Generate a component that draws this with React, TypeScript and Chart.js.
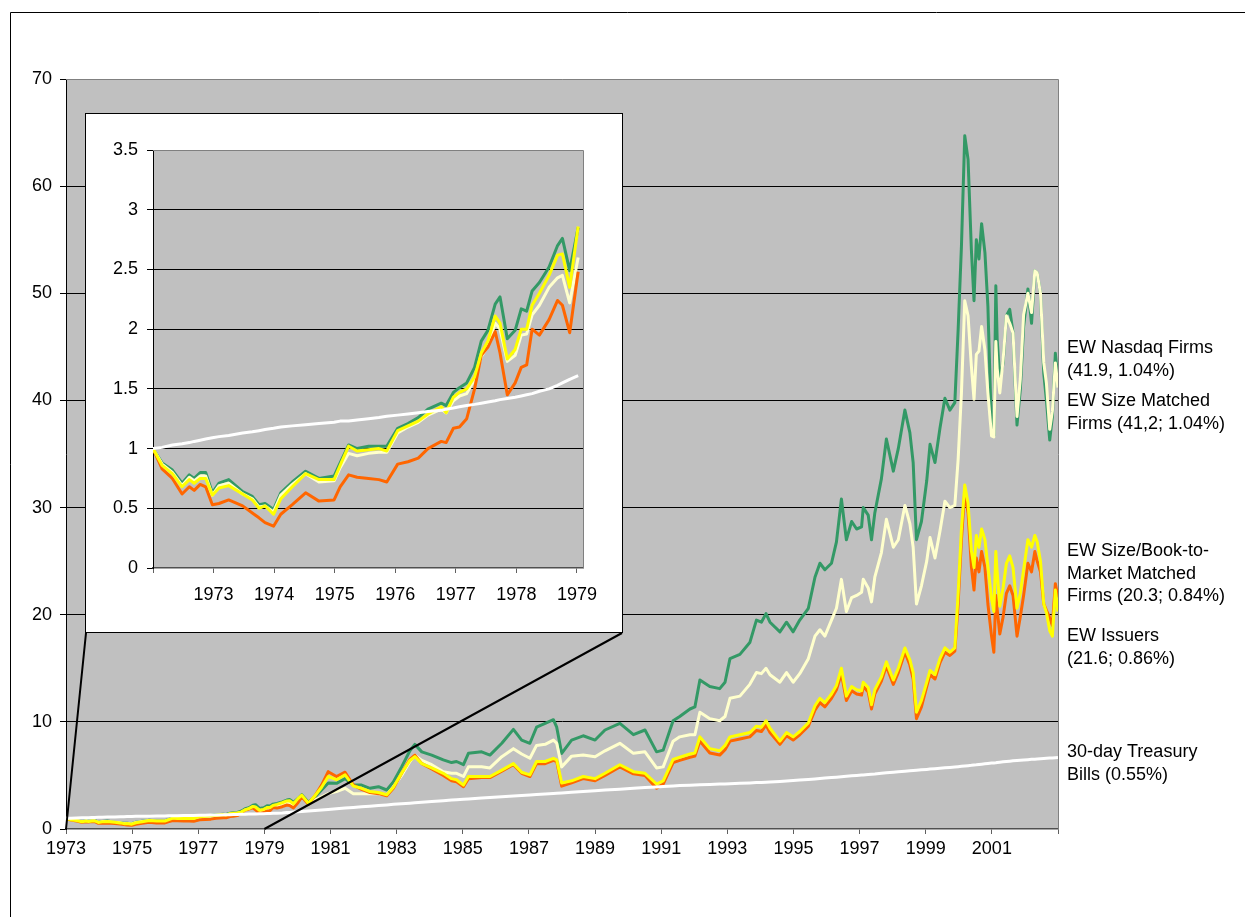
import React, { useEffect, useRef } from 'react';
import { Chart, registerables } from 'chart.js';

Chart.register(...registerables);

// ---- DATA (decimal years) ----
const YEARS = [
  // 1973 - 1980
  1973.00, 1973.15, 1973.32, 1973.48, 1973.60, 1973.68, 1973.78, 1973.87, 1973.98, 1974.09,
  1974.25, 1974.48, 1974.64, 1974.75, 1974.85, 1974.99, 1975.11, 1975.30, 1975.52, 1975.74,
  1975.99, 1976.09, 1976.23, 1976.37, 1976.56, 1976.73, 1976.86, 1977.04, 1977.21, 1977.38,
  1977.54, 1977.76, 1977.84, 1977.96, 1978.06, 1978.18, 1978.31, 1978.42, 1978.53, 1978.65,
  1978.73, 1978.85, 1978.98, 1979.08, 1979.17, 1979.26, 1979.38, 1979.54, 1979.68, 1979.76,
  1979.88, 1980.02,
  // 1980 - 1991
  1980.13, 1980.33, 1980.53, 1980.73, 1980.93, 1981.18, 1981.44, 1981.69, 1981.94, 1982.19,
  1982.45, 1982.70, 1982.90, 1983.15, 1983.40, 1983.55, 1983.76, 1984.06, 1984.41, 1984.66,
  1984.81, 1985.02, 1985.17, 1985.57, 1985.82, 1986.18, 1986.53, 1986.78, 1987.03, 1987.23,
  1987.49, 1987.74, 1987.84, 1987.99, 1988.29, 1988.64, 1989.00, 1989.30, 1989.75, 1990.16,
  1990.51, 1990.86, 1991.06,
  // 1991 - 2003
  1991.36, 1991.56, 1991.87, 1992.02, 1992.17, 1992.47, 1992.77, 1992.93, 1993.08, 1993.38,
  1993.68, 1993.88, 1994.03, 1994.17, 1994.29, 1994.59, 1994.79, 1994.99, 1995.19, 1995.45,
  1995.65, 1995.80, 1995.95, 1996.15, 1996.30, 1996.45, 1996.60, 1996.76, 1996.91, 1997.06,
  1997.11, 1997.26, 1997.36, 1997.46, 1997.66, 1997.81, 1998.02, 1998.17, 1998.37, 1998.52,
  1998.62, 1998.72, 1998.87, 1999.03, 1999.13, 1999.28, 1999.43, 1999.58, 1999.73, 1999.88,
  1999.98, 2000.08, 2000.18, 2000.28, 2000.38, 2000.46, 2000.53, 2000.61, 2000.69, 2000.79,
  2000.88, 2000.99, 2001.06, 2001.12, 2001.16, 2001.24, 2001.34, 2001.44, 2001.54, 2001.64,
  2001.76, 2001.86, 2001.96, 2002.09, 2002.20, 2002.30, 2002.37, 2002.47, 2002.57, 2002.65,
  2002.75, 2002.83, 2002.92, 2003.00,
];

const EW_NASDAQ = [
  1.00, 0.88, 0.82, 0.71, 0.78, 0.75, 0.80, 0.80, 0.63, 0.71,
  0.74, 0.64, 0.60, 0.53, 0.54, 0.49, 0.63, 0.72, 0.81, 0.75,
  0.77, 0.88, 1.03, 1.00, 1.02, 1.02, 1.02, 1.17, 1.21, 1.26,
  1.33, 1.38, 1.36, 1.47, 1.51, 1.55, 1.68, 1.90, 1.99, 2.21,
  2.27, 1.92, 1.99, 2.17, 2.15, 2.32, 2.39, 2.52, 2.70, 2.76,
  2.49, 2.85,
  3.20, 2.50, 3.00, 3.64, 4.30, 4.26, 4.70, 4.10, 4.10, 3.80,
  3.95, 3.64, 4.40, 5.80, 7.30, 7.90, 7.20, 6.90, 6.45, 6.20,
  6.30, 6.00, 7.06, 7.20, 6.90, 8.00, 9.30, 8.30, 8.00, 9.50,
  9.86, 10.20, 9.50, 7.06, 8.30, 8.70, 8.30, 9.24, 9.86, 8.80,
  9.24, 7.20, 7.36,
  10.1, 10.5, 11.2, 11.4, 13.9, 13.3, 13.1, 13.7, 15.9, 16.3,
  17.4, 19.5, 19.3, 20.1, 19.3, 18.4, 19.3, 18.4, 19.5, 20.6,
  23.5, 24.8, 24.2, 24.8, 26.8, 30.8, 27.0, 28.7, 28.0, 28.2,
  30.0, 29.3, 27.0, 29.5, 32.7, 36.4, 33.4, 35.5, 39.1, 37.0,
  34.2, 27.0, 28.7, 32.5, 35.9, 34.2, 37.4, 40.2, 39.1, 39.8,
  46.6, 54.4, 64.7, 62.5, 54.1, 49.3, 55.0, 53.2, 56.5, 53.8,
  48.8, 37.0, 36.7, 50.7, 45.7, 42.0, 43.5, 47.9, 48.5, 46.3,
  37.7, 41.0, 46.9, 50.4, 47.2, 52.1, 51.9, 50.0, 42.5, 40.0,
  36.3, 38.5, 44.4, 41.9,
];

const EW_SIZE_MATCHED = [
  1.00, 0.87, 0.80, 0.69, 0.76, 0.73, 0.77, 0.77, 0.61, 0.69,
  0.71, 0.62, 0.58, 0.51, 0.52, 0.47, 0.61, 0.70, 0.79, 0.72,
  0.73, 0.84, 0.96, 0.94, 0.96, 0.97, 0.97, 1.13, 1.18, 1.22,
  1.28, 1.33, 1.30, 1.40, 1.44, 1.46, 1.58, 1.77, 1.86, 2.05,
  2.00, 1.73, 1.78, 1.95, 1.96, 2.12, 2.20, 2.35, 2.43, 2.45,
  2.22, 2.60,
  3.00, 2.40, 2.70, 3.00, 3.30, 3.50, 3.80, 3.30, 3.30, 3.30,
  3.30, 3.20, 3.90, 5.00, 6.30, 6.90, 6.40, 6.00, 5.35, 5.20,
  5.20, 4.90, 5.80, 5.80, 5.70, 6.75, 7.50, 7.00, 6.60, 7.80,
  7.90, 8.30, 8.00, 5.80, 6.80, 6.90, 6.75, 7.30, 8.00, 7.06,
  7.20, 5.70, 5.80,
  8.2, 8.6, 8.8, 8.8, 10.9, 10.3, 10.1, 10.5, 12.2, 12.4,
  13.5, 14.6, 14.5, 15.0, 14.4, 13.7, 14.6, 13.7, 14.5, 15.9,
  18.0, 18.6, 18.0, 19.5, 20.6, 23.3, 20.3, 21.6, 21.8, 22.1,
  23.3, 22.5, 21.2, 23.5, 25.8, 28.9, 26.3, 27.0, 30.2, 28.5,
  26.3, 21.0, 22.7, 25.0, 27.2, 25.3, 27.8, 30.6, 30.0, 30.2,
  34.5, 40.7, 49.3, 47.9, 43.2, 40.1, 44.3, 44.6, 46.9, 44.7,
  40.7, 36.7, 36.6, 45.5, 43.0, 40.7, 43.8, 47.9, 47.2, 46.3,
  38.5, 42.0, 48.0, 50.0, 48.2, 52.1, 51.9, 50.0, 43.5, 41.6,
  37.3, 39.0, 43.5, 41.2,
];

const EW_SIZE_BM_MATCHED = [
  1.00, 0.86, 0.79, 0.68, 0.74, 0.71, 0.75, 0.75, 0.61, 0.67,
  0.69, 0.62, 0.57, 0.50, 0.52, 0.45, 0.58, 0.68, 0.79, 0.74,
  0.74, 0.86, 1.02, 0.98, 0.99, 1.00, 0.98, 1.15, 1.19, 1.23,
  1.29, 1.35, 1.30, 1.43, 1.47, 1.50, 1.60, 1.80, 1.90, 2.11,
  2.05, 1.75, 1.83, 2.00, 2.00, 2.20, 2.30, 2.45, 2.62, 2.63,
  2.35, 2.86,
  3.16, 2.40, 3.10, 3.90, 4.90, 4.60, 5.05, 4.00, 3.80, 3.50,
  3.40, 3.20, 3.90, 5.20, 6.40, 6.75, 6.10, 5.70, 5.20, 4.70,
  4.60, 4.10, 4.90, 4.90, 4.90, 5.50, 6.10, 5.30, 5.05, 6.30,
  6.30, 6.60, 6.45, 4.30, 4.50, 4.90, 4.70, 5.20, 6.00, 5.35,
  5.20, 4.20, 4.50,
  6.5, 6.7, 7.0, 7.1, 8.6, 7.5, 7.3, 7.8, 8.6, 8.8,
  9.0, 9.6, 9.5, 10.1, 9.4, 8.2, 9.0, 8.6, 9.1, 9.9,
  11.5, 12.2, 11.8, 12.6, 13.4, 15.0, 12.4, 13.3, 13.0, 12.9,
  13.7, 13.2, 11.6, 13.0, 14.2, 15.6, 13.9, 15.0, 16.9, 15.8,
  14.6, 10.9, 12.0, 13.7, 14.8, 14.4, 15.9, 16.9, 16.5, 16.9,
  22.0, 28.0, 32.1, 30.4, 26.0, 24.4, 27.4, 26.3, 28.0, 27.0,
  24.5, 21.5, 20.3, 25.9, 24.0, 20.8, 22.5, 24.8, 25.5, 24.4,
  20.6, 22.0, 24.2, 27.0, 26.3, 27.4, 26.8, 25.0, 21.0, 20.2,
  18.5, 18.0, 22.3, 20.3,
];

const EW_ISSUERS = [
  1.00, 0.83, 0.75, 0.62, 0.68, 0.65, 0.70, 0.68, 0.53, 0.54,
  0.57, 0.52, 0.46, 0.42, 0.38, 0.35, 0.45, 0.53, 0.63, 0.56,
  0.57, 0.68, 0.78, 0.76, 0.75, 0.74, 0.72, 0.87, 0.89, 0.92,
  1.00, 1.06, 1.05, 1.17, 1.18, 1.25, 1.50, 1.78, 1.85, 1.98,
  1.80, 1.45, 1.55, 1.68, 1.70, 2.00, 1.95, 2.08, 2.24, 2.20,
  1.97, 2.48,
  3.00, 2.30, 3.10, 4.10, 5.35, 4.90, 5.30, 4.10, 3.70, 3.40,
  3.30, 3.10, 3.80, 5.20, 6.50, 6.90, 6.10, 5.60, 5.00, 4.50,
  4.40, 3.95, 4.70, 4.80, 4.80, 5.40, 6.00, 5.20, 4.90, 6.10,
  6.10, 6.40, 6.30, 4.00, 4.30, 4.70, 4.50, 5.00, 5.80, 5.15,
  5.00, 3.80, 4.20,
  6.2, 6.4, 6.7, 6.8, 8.2, 7.1, 6.9, 7.4, 8.2, 8.4,
  8.6, 9.2, 9.1, 9.7, 9.0, 7.9, 8.7, 8.3, 8.8, 9.6,
  11.1, 11.8, 11.4, 12.2, 13.0, 14.5, 12.0, 12.9, 12.6, 12.5,
  13.3, 12.8, 11.2, 12.6, 13.8, 15.2, 13.5, 14.6, 16.5, 15.3,
  14.0, 10.3, 11.4, 13.3, 14.4, 14.0, 15.5, 16.5, 16.2, 16.6,
  21.0, 27.0, 31.5, 29.5, 24.5, 22.3, 25.3, 24.0, 25.9, 24.4,
  21.0, 18.0, 16.5, 21.8, 20.5, 18.2, 19.8, 22.0, 22.7, 21.8,
  18.0, 19.8, 21.8, 24.8, 24.0, 25.9, 25.0, 24.0, 21.0, 20.4,
  19.7, 19.0, 22.9, 21.6,
];

const TBILLS_30D = [
  1.00, 1.01, 1.03, 1.04, 1.05, 1.06, 1.07, 1.08, 1.09, 1.10,
  1.11, 1.13, 1.14, 1.15, 1.16, 1.17, 1.18, 1.19, 1.20, 1.21,
  1.22, 1.23, 1.23, 1.24, 1.25, 1.26, 1.27, 1.28, 1.29, 1.30,
  1.31, 1.32, 1.33, 1.34, 1.35, 1.36, 1.37, 1.38, 1.39, 1.40,
  1.41, 1.42, 1.43, 1.44, 1.45, 1.46, 1.48, 1.50, 1.53, 1.55,
  1.58, 1.61,
  1.64, 1.68, 1.72, 1.77, 1.82, 1.88, 1.95, 2.01, 2.07, 2.13,
  2.19, 2.25, 2.30, 2.35, 2.41, 2.44, 2.49, 2.56, 2.64, 2.70,
  2.73, 2.78, 2.81, 2.89, 2.94, 3.01, 3.08, 3.13, 3.18, 3.22,
  3.27, 3.32, 3.34, 3.37, 3.43, 3.50, 3.57, 3.63, 3.72, 3.80,
  3.87, 3.93, 3.97,
  4.02, 4.05, 4.09, 4.11, 4.13, 4.16, 4.19, 4.21, 4.23, 4.26,
  4.30, 4.33, 4.35, 4.37, 4.39, 4.44, 4.48, 4.52, 4.57, 4.62,
  4.67, 4.71, 4.75, 4.80, 4.84, 4.88, 4.92, 4.96, 5.00, 5.04,
  5.05, 5.09, 5.12, 5.14, 5.20, 5.24, 5.30, 5.34, 5.39, 5.43,
  5.46, 5.48, 5.52, 5.56, 5.59, 5.63, 5.67, 5.71, 5.75, 5.79,
  5.82, 5.85, 5.88, 5.91, 5.94, 5.97, 5.99, 6.02, 6.05, 6.08,
  6.11, 6.15, 6.17, 6.19, 6.21, 6.24, 6.27, 6.30, 6.33, 6.36,
  6.39, 6.42, 6.44, 6.47, 6.50, 6.52, 6.54, 6.56, 6.58, 6.60,
  6.62, 6.63, 6.65, 6.67,
];

const MAIN_X_TICKS = [1973, 1975, 1977, 1979, 1981, 1983, 1985, 1987, 1989, 1991, 1993, 1995, 1997, 1999, 2001, 2003];
const MAIN_X_LABELS = ['1973', '1975', '1977', '1979', '1981', '1983', '1985', '1987', '1989', '1991', '1993', '1995', '1997', '1999', '2001', ''];
const INSET_X_TICKS = [1973, 1974, 1975, 1976, 1977, 1978, 1979, 1980];
const INSET_X_LABELS = ['', '1973', '1974', '1975', '1976', '1977', '1978', '1979'];
const INSET_END = 1980.05;

const SERIES_NOTES = [
  ['EW Nasdaq Firms', '(41.9, 1.04%)'],
  ['EW Size Matched', 'Firms (41,2; 1.04%)'],
  ['EW Size/Book-to-', 'Market Matched', 'Firms (20.3; 0.84%)'],
  ['EW Issuers', '(21.6; 0.86%)'],
  ['30-day Treasury', 'Bills (0.55%)'],
];

const FONT = '"Liberation Sans", Arial, Helvetica, sans-serif';
const GRAY_BG = '#C0C0C0';

function buildDatasets(maxYear: number) {
  const pts = (vals: number[]) =>
    YEARS.map((x, i) => ({ x, y: vals[i] })).filter((p) => p.x <= maxYear && p.y !== undefined);
  const common = { pointRadius: 0, borderWidth: 3, tension: 0, fill: false, borderJoinStyle: 'round' as const };
  return [
    { label: '30-day Treasury Bills', data: pts(TBILLS_30D), borderColor: '#FFFFFF', order: 0, ...common },
    { label: 'EW Size/Book-to-Market Matched Firms', data: pts(EW_SIZE_BM_MATCHED), borderColor: '#FFFF00', order: 1, ...common },
    { label: 'EW Issuers', data: pts(EW_ISSUERS), borderColor: '#FF6600', order: 2, ...common },
    { label: 'EW Size Matched Firms', data: pts(EW_SIZE_MATCHED), borderColor: '#FFFFCC', order: 3, ...common },
    { label: 'EW Nasdaq Firms', data: pts(EW_NASDAQ), borderColor: '#339966', order: 4, ...common },
  ];
}

const plotFramePlugin = {
  id: 'plotFrame',
  beforeDraw(chart: any) {
    const { ctx, chartArea: a } = chart;
    ctx.save();
    ctx.fillStyle = GRAY_BG;
    ctx.fillRect(a.left, a.top, a.right - a.left, a.bottom - a.top);
    ctx.restore();
  },
  afterDatasetsDraw(chart: any) {
    const { ctx, chartArea: a } = chart;
    ctx.save();
    ctx.strokeStyle = '#808080';
    ctx.lineWidth = 1;
    ctx.beginPath();
    ctx.moveTo(Math.round(a.left), Math.round(a.top) + 0.5);
    ctx.lineTo(Math.round(a.right) + 0.5, Math.round(a.top) + 0.5);
    ctx.lineTo(Math.round(a.right) + 0.5, Math.round(a.bottom));
    ctx.stroke();
    ctx.restore();
  },
};

const INSET_BOX = { left: 85, top: 113, width: 538, height: 520 };

export default function App() {
  const mainRef = useRef<HTMLCanvasElement | null>(null);
  const insetRef = useRef<HTMLCanvasElement | null>(null);

  useEffect(() => {
    if (!mainRef.current || !insetRef.current) return;

    const overlayPlugin = {
      id: 'overlay',
      afterDraw(chart: any) {
        const { ctx } = chart;
        const xs = chart.scales.x;
        const ys = chart.scales.y;
        ctx.save();
        // outer frame
        ctx.strokeStyle = '#000';
        ctx.lineWidth = 1;
        ctx.beginPath();
        ctx.moveTo(10.5, 917);
        ctx.lineTo(10.5, 12.5);
        ctx.lineTo(1245, 12.5);
        ctx.stroke();
        // zoom connector lines
        ctx.lineWidth = 2;
        const bottomY = INSET_BOX.top + INSET_BOX.height;
        ctx.beginPath();
        ctx.moveTo(INSET_BOX.left + 1, bottomY);
        ctx.lineTo(xs.getPixelForValue(INSET_X_TICKS[0]), ys.getPixelForValue(0));
        ctx.moveTo(INSET_BOX.left + INSET_BOX.width - 1, bottomY);
        ctx.lineTo(xs.getPixelForValue(1979), ys.getPixelForValue(0));
        ctx.stroke();
        // series notes
        ctx.fillStyle = '#000';
        ctx.font = `18px ${FONT}`;
        ctx.textAlign = 'left';
        ctx.textBaseline = 'alphabetic';
        const starts = [353, 406, 556, 641, 757];
        SERIES_NOTES.forEach((lines, i) => {
          lines.forEach((t, j) => ctx.fillText(t, 1067, starts[i] + j * 22.5));
        });
        ctx.restore();
      },
    };

    const main = new Chart(mainRef.current, {
      type: 'line',
      data: { datasets: buildDatasets(9999) as any },
      options: {
        responsive: false,
        animation: false,
        events: [],
        layout: { padding: { left: 0, top: 79, right: 187, bottom: 40 } },
        plugins: { legend: { display: false }, tooltip: { enabled: false } },
        scales: {
          x: {
            type: 'linear',
            min: 1973,
            max: 2003,
            afterBuildTicks: (s: any) => {
              s.ticks = MAIN_X_TICKS.map((v) => ({ value: v }));
            },
            afterFit: (s: any) => {
              s.height = 48;
            },
            ticks: {
              autoSkip: false,
              maxRotation: 0,
              padding: 4,
              color: '#000',
              font: { family: FONT, size: 18 },
              callback: (_v: any, i: number) => MAIN_X_LABELS[i],
            },
            grid: { drawOnChartArea: false, tickLength: 5, tickColor: '#606060', lineWidth: 1 },
            border: { display: true, color: '#505050', width: 1.5 },
          },
          y: {
            min: 0,
            max: 70,
            afterFit: (s: any) => {
              s.width = 66;
            },
            ticks: {
              stepSize: 10,
              padding: 8,
              color: '#000',
              font: { family: FONT, size: 18 },
            },
            grid: {
              color: (c: any) => (c.tick && c.tick.value > 0 && c.tick.value < 70 ? '#000' : 'rgba(0,0,0,0)'),
              tickColor: '#000',
              tickLength: 6,
              lineWidth: 1,
            },
            border: { display: true, color: '#000', width: 1 },
          },
        },
      },
      plugins: [plotFramePlugin, overlayPlugin],
    } as any);

    const inset = new Chart(insetRef.current, {
      type: 'line',
      data: { datasets: buildDatasets(INSET_END) as any },
      options: {
        responsive: false,
        animation: false,
        events: [],
        layout: { padding: { left: 0, top: 36, right: 39, bottom: 14 } },
        plugins: { legend: { display: false }, tooltip: { enabled: false } },
        scales: {
          x: {
            type: 'linear',
            min: 1973,
            max: 1980.1,
            afterBuildTicks: (s: any) => {
              s.ticks = INSET_X_TICKS.map((v) => ({ value: v }));
            },
            afterFit: (s: any) => {
              s.height = 50;
            },
            ticks: {
              autoSkip: false,
              maxRotation: 0,
              padding: 11,
              color: '#000',
              font: { family: FONT, size: 18 },
              callback: (_v: any, i: number) => INSET_X_LABELS[i],
            },
            grid: { drawOnChartArea: false, tickLength: 5, tickColor: '#606060', lineWidth: 1 },
            border: { display: true, color: '#505050', width: 1.5 },
          },
          y: {
            min: 0,
            max: 3.5,
            afterFit: (s: any) => {
              s.width = 67;
            },
            ticks: {
              stepSize: 0.5,
              padding: 9,
              color: '#000',
              font: { family: FONT, size: 18 },
              callback: (v: any) => String(Math.round(Number(v) * 10) / 10),
            },
            grid: {
              color: (c: any) => (c.tick && c.tick.value > 0.01 && c.tick.value < 3.49 ? '#000' : 'rgba(0,0,0,0)'),
              tickColor: '#000',
              tickLength: 6,
              lineWidth: 1,
            },
            border: { display: true, color: '#000', width: 1 },
          },
        },
      },
      plugins: [plotFramePlugin],
    } as any);

    return () => {
      main.destroy();
      inset.destroy();
    };
  }, []);

  return (
    <div style={{ position: 'fixed', left: 0, top: 0, width: 1245, height: 917, background: '#fff', overflow: 'hidden' }}>
      <canvas ref={mainRef} width={1245} height={917} style={{ position: 'absolute', left: 0, top: 0 }} />
      <div
        style={{
          position: 'absolute',
          left: INSET_BOX.left,
          top: INSET_BOX.top,
          width: INSET_BOX.width,
          height: INSET_BOX.height,
          boxSizing: 'border-box',
          border: '1px solid #000',
          background: '#fff',
        }}
      >
        <canvas ref={insetRef} width={INSET_BOX.width - 2} height={INSET_BOX.height - 2} style={{ display: 'block' }} />
      </div>
    </div>
  );
}
